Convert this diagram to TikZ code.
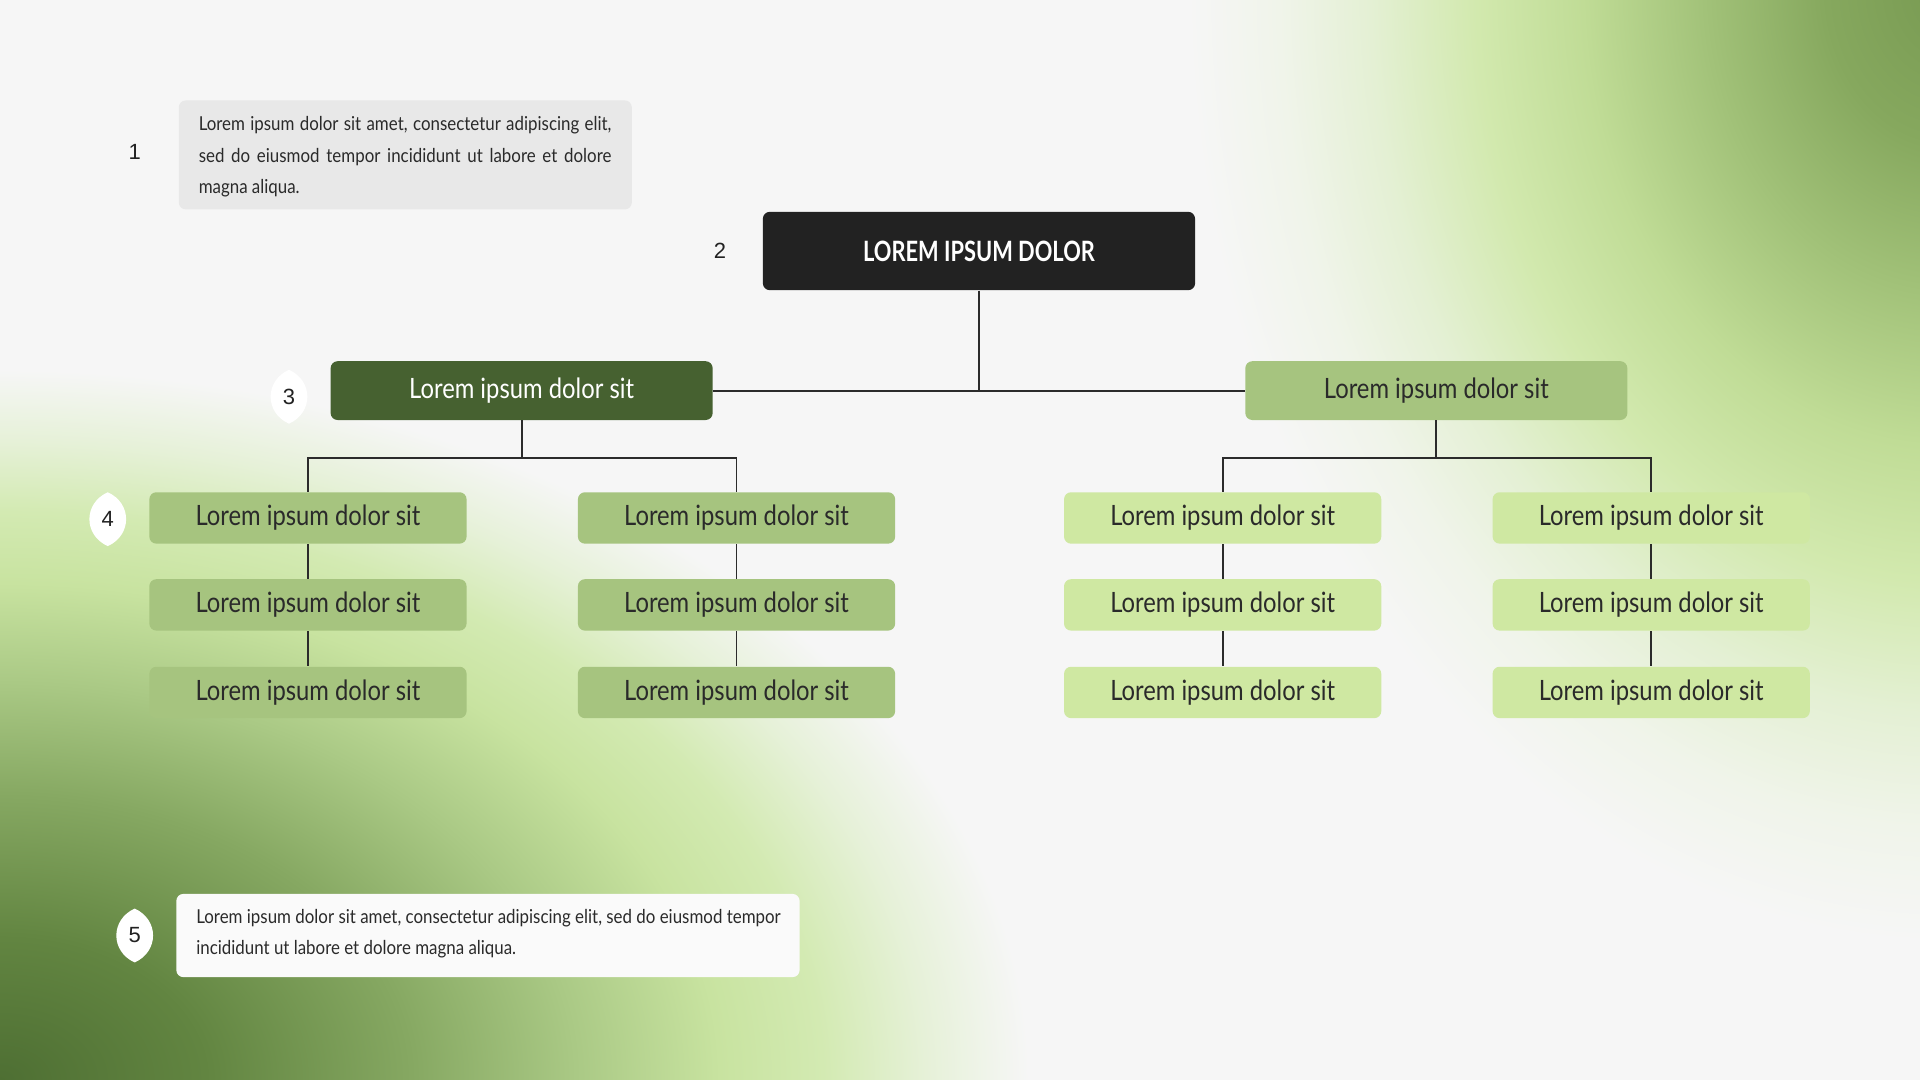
\documentclass[tikz,border=0pt]{standalone}
\usepackage{fontspec}
\setmainfont{Lato}
\newfontfamily\cfont{Lato}[FakeStretch=0.85]
\newfontfamily\tfont{Lato}[FakeStretch=0.78]
\newfontfamily\pfont{Lato}[FakeStretch=0.88]
\newfontfamily\numfont{Liberation Sans}

\definecolor{bg}{HTML}{F6F6F6}
\definecolor{titlebk}{HTML}{222222}
\definecolor{dkgreen}{HTML}{466130}
\definecolor{midgreen}{HTML}{A6C47F}
\definecolor{ltgreen}{HTML}{CFE8A2}
\definecolor{greybox}{HTML}{E8E8E8}
\definecolor{whitebox}{HTML}{FAFAFA}
\definecolor{linec}{HTML}{2B2B2B}
\definecolor{txt}{HTML}{2A2A2A}
% background gradient colours
\definecolor{bla}{HTML}{4E6F33}
\definecolor{blb}{HTML}{628541}
\definecolor{blc}{HTML}{86A862}
\definecolor{bld}{HTML}{AAC985}
\definecolor{ble}{HTML}{C8E3A0}
\definecolor{blf}{HTML}{D3EAB2}
\definecolor{blg}{HTML}{E6F1D8}
\definecolor{tra}{HTML}{789A52}
\definecolor{trb}{HTML}{86A85E}
\definecolor{trc}{HTML}{A2C279}
\definecolor{trd}{HTML}{C0DC96}
\definecolor{tre}{HTML}{D2E9AE}
\definecolor{trf}{HTML}{E4F0D4}
\definecolor{trg}{HTML}{F0F4EA}

% TikZ maps the 25bp radius of a shading onto the path's bounding box edge
\pgfdeclareradialshading{blshade}{\pgfpointorigin}{color(0bp)=(bla); color(5bp)=(blb); color(10bp)=(blc); color(14bp)=(bld); color(17.5bp)=(ble); color(20bp)=(blf); color(22.5bp)=(blg); color(25bp)=(bg); color(50bp)=(bg)}
\pgfdeclareradialshading{trshade}{\pgfpointorigin}{color(0bp)=(tra); color(4bp)=(trb); color(8bp)=(trc); color(12bp)=(trd); color(15.5bp)=(tre); color(19bp)=(trf); color(22bp)=(trg); color(25bp)=(bg); color(50bp)=(bg)}

\newcommand\leafshape[2]{%
  \fill[white] ({#1},{#2-22}) .. controls ({#1+20},{#2-13}) and ({#1+20},{#2+13}) .. ({#1},{#2+22})
     .. controls ({#1-20},{#2+13}) and ({#1-20},{#2-13}) .. cycle;}

\begin{document}
\begin{tikzpicture}[x=0.6122pt,y=-0.6122pt,
  box/.style={rounded corners=3.5pt, inner sep=0pt, align=center, text=txt,
     font=\cfont\fontsize{14}{16}\selectfont},
  leafbox/.style={box, minimum width=158.6pt, minimum height=25.7pt},
  midbox/.style={leafbox, fill=midgreen},
  lightbox/.style={leafbox, fill=ltgreen},
  numlabel/.style={font=\numfont\fontsize{11}{12}\selectfont, text=titlebk, inner sep=0pt},
  para/.style={rounded corners=3.5pt, inner sep=0pt, align=left, text=txt,
     font=\pfont\fontsize{9.6}{15.7}\selectfont},
  conn/.style={draw=linec, line width=0.9pt}
]
\fill[bg] (0,0) rectangle (1568,882);
\useasboundingbox (0,0) rectangle (1568,882);

% background glows
\begin{scope}
\clip (0,0) rectangle (1568,882);
\shade[shading=blshade] (0,882) ellipse [x radius=840, y radius=580];
\shade[shading=trshade] (1590,-10) ellipse [x radius=620, y radius=780];
\end{scope}

% text boxes
\node[para, fill=greybox, minimum width=226.5pt, minimum height=54.5pt] (b1) at (331,126.5) {};
\node[para, anchor=north west] (t1) at (162,95) {%
  \makebox[206.3pt][s]{Lorem ipsum dolor sit amet, consectetur adipiscing elit,}\\
  \makebox[206.3pt][s]{sed do eiusmod tempor incididunt ut labore et dolore}\\
  magna aliqua.};
\node[para, fill=whitebox, minimum width=311.6pt, minimum height=41.6pt] (b5) at (398.5,764) {};
\node[para, anchor=north west] (t5) at (160,742) {%
  Lorem ipsum dolor sit amet, consectetur adipiscing elit, sed do eiusmod tempor\\
  incididunt ut labore et dolore magna aliqua.};

% title and level 1
\node[box, fill=titlebk, text=white, minimum width=216.1pt, minimum height=39.2pt,
      font=\tfont\bfseries\fontsize{14}{16}\selectfont] (top) at (799.5,205) {LOREM IPSUM DOLOR};
\node[box, fill=dkgreen, text=white, minimum width=191pt, minimum height=29.4pt] (L1) at (426,319) {Lorem ipsum dolor sit};
\node[box, fill=midgreen, minimum width=191pt, minimum height=29.4pt] (R1) at (1173,319) {Lorem ipsum dolor sit};

% columns
\node[midbox] (A1) at (251.5,423) {Lorem ipsum dolor sit};
\node[midbox] (A2) at (251.5,494) {Lorem ipsum dolor sit};
\node[midbox] (A3) at (251.5,565.5) {Lorem ipsum dolor sit};
\node[midbox] (B1) at (601.5,423) {Lorem ipsum dolor sit};
\node[midbox] (B2) at (601.5,494) {Lorem ipsum dolor sit};
\node[midbox] (B3) at (601.5,565.5) {Lorem ipsum dolor sit};
\node[lightbox] (C1) at (998.5,423) {Lorem ipsum dolor sit};
\node[lightbox] (C2) at (998.5,494) {Lorem ipsum dolor sit};
\node[lightbox] (C3) at (998.5,565.5) {Lorem ipsum dolor sit};
\node[lightbox] (D1) at (1348.5,423) {Lorem ipsum dolor sit};
\node[lightbox] (D2) at (1348.5,494) {Lorem ipsum dolor sit};
\node[lightbox] (D3) at (1348.5,565.5) {Lorem ipsum dolor sit};

% connectors
\coordinate (jl) at (426,374);
\coordinate (jr) at (1173,374);
\draw[conn] (top.south) -- (top.south |- L1.east);
\draw[conn] (L1.east) -- (R1.west);
\draw[conn] (L1.south) -- (jl);
\draw[conn] (R1.south) -- (jr);
\draw[conn] (A1.north) -- (A1.north |- jl) -- (B1.north |- jl) -- (B1.north);
\draw[conn] (C1.north) -- (C1.north |- jr) -- (D1.north |- jr) -- (D1.north);
\foreach \c in {A,B,C,D}{
  \draw[conn] (\c1.south) -- (\c2.north);
  \draw[conn] (\c2.south) -- (\c3.north);
}

% number labels
\leafshape{236}{324}
\leafshape{88}{424}
\leafshape{110}{764}
\node[numlabel] (n1) at (110,124) {1};
\node[numlabel] (n2) at (588,205) {2};
\node[numlabel] (n3) at (236,324) {3};
\node[numlabel] (n4) at (88,424) {4};
\node[numlabel] (n5) at (110,764) {5};
\end{tikzpicture}
\end{document}
